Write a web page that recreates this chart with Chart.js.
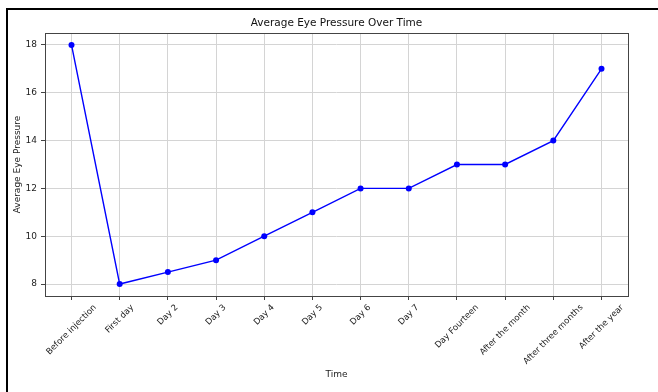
<!DOCTYPE html>
<html>
<head>
<meta charset="utf-8">
<script src="https://cdn.jsdelivr.net/npm/chart.js@4.4.1/dist/chart.umd.min.js"></script>
<style>
  html, body { margin: 0; padding: 0; background: #fff; }
  #frame {
    position: absolute; left: 6px; top: 8px; width: 700px; height: 500px;
    border-top: 2px solid #000; border-left: 2px solid #000;
  }
  #wrap { position: absolute; left: 0; top: 0; width: 658px; height: 392px; }
</style>
</head>
<body>
<div id="frame"></div>
<div id="wrap"><canvas id="chart" width="658" height="392"></canvas></div>
<script>
const categories = ['Before injection', 'First day', 'Day 2', 'Day 3', 'Day 4', 'Day 5',
  'Day 6', 'Day 7', 'Day Fourteen', 'After the month', 'After three months', 'After the year'];
const pressure = [18, 8, 8.5, 9, 10, 11, 12, 12, 13, 13, 14, 17];
const yTicks = [8, 10, 12, 14, 16, 18];

const FONT = "'DejaVu Sans', sans-serif";

// matplotlib-like frame (all four spines)
const framePlugin = {
  id: 'frame',
  afterDraw(chart) {
    const { ctx, chartArea: a } = chart;
    ctx.save();
    ctx.strokeStyle = '#444';
    ctx.lineWidth = 1;
    ctx.strokeRect(Math.round(a.left) + 0.5, Math.round(a.top) + 0.5,
      Math.round(a.right - a.left), Math.round(a.bottom - a.top));
    ctx.restore();
  }
};

// rotated x labels, centred under each tick like matplotlib
const xLabels = {
  id: 'xLabels',
  afterDraw(chart) {
    const { ctx, chartArea: a } = chart;
    const xs = chart.scales.x;
    ctx.save();
    ctx.font = '8.5px ' + FONT;
    ctx.fillStyle = '#222';
    ctx.textAlign = 'center';
    ctx.textBaseline = 'middle';
    const top = a.bottom + 7;
    const h = 9;
    categories.forEach((c, i) => {
      const x = xs.getPixelForValue(i);
      const w = ctx.measureText(c).width;
      const half = (w + h) * Math.SQRT1_2 / 2;
      ctx.save();
      ctx.translate(x, top + half);
      ctx.rotate(-Math.PI / 4);
      ctx.fillText(c, 0, 0);
      ctx.restore();
    });
    ctx.restore();
  }
};

new Chart(document.getElementById('chart'), {
  type: 'line',
  data: {
    datasets: [{
      data: pressure.map((v, i) => ({ x: i, y: v })),
      borderColor: '#0000ff',
      backgroundColor: '#0000ff',
      borderWidth: 1.4,
      pointRadius: 3,
      pointHoverRadius: 3,
      pointBorderWidth: 0,
      tension: 0
    }]
  },
  options: {
    responsive: false,
    animation: false,
    layout: { padding: { left: 0, right: 30, top: 0, bottom: 0 } },
    plugins: {
      legend: { display: false },
      tooltip: { enabled: false },
      title: {
        display: true,
        text: 'Average Eye Pressure Over Time',
        fullSize: false,
        color: '#111',
        font: { family: FONT, size: 10.5, weight: 'normal', lineHeight: 1.2 },
        padding: { top: 17, bottom: 3.4 }
      }
    },
    scales: {
      x: {
        type: 'linear',
        min: -0.55,
        max: 11.55,
        afterBuildTicks: s => { s.ticks = categories.map((c, i) => ({ value: i })); },
        afterFit: s => { s.height = 96; },
        ticks: { display: false },
        grid: { color: '#d4d4d4', lineWidth: 1, tickLength: 4, tickColor: '#444' },
        border: { display: false },
        title: {
          display: true, text: 'Time', color: '#222',
          font: { family: FONT, size: 9 },
          padding: { top: 0, bottom: 12 }
        }
      },
      y: {
        min: 7.5,
        max: 18.5,
        afterBuildTicks: s => { s.ticks = yTicks.map(v => ({ value: v })); },
        afterFit: s => { s.width = 45; },
        ticks: { color: '#222', font: { family: FONT, size: 9 }, padding: 4 },
        grid: { color: '#d4d4d4', lineWidth: 1, tickLength: 4, tickColor: '#444' },
        border: { display: false },
        title: {
          display: true, text: 'Average Eye Pressure', color: '#222',
          font: { family: FONT, size: 9 },
          padding: { top: 12, bottom: 0 }
        }
      }
    }
  },
  plugins: [framePlugin, xLabels]
});
</script>
</body>
</html>
